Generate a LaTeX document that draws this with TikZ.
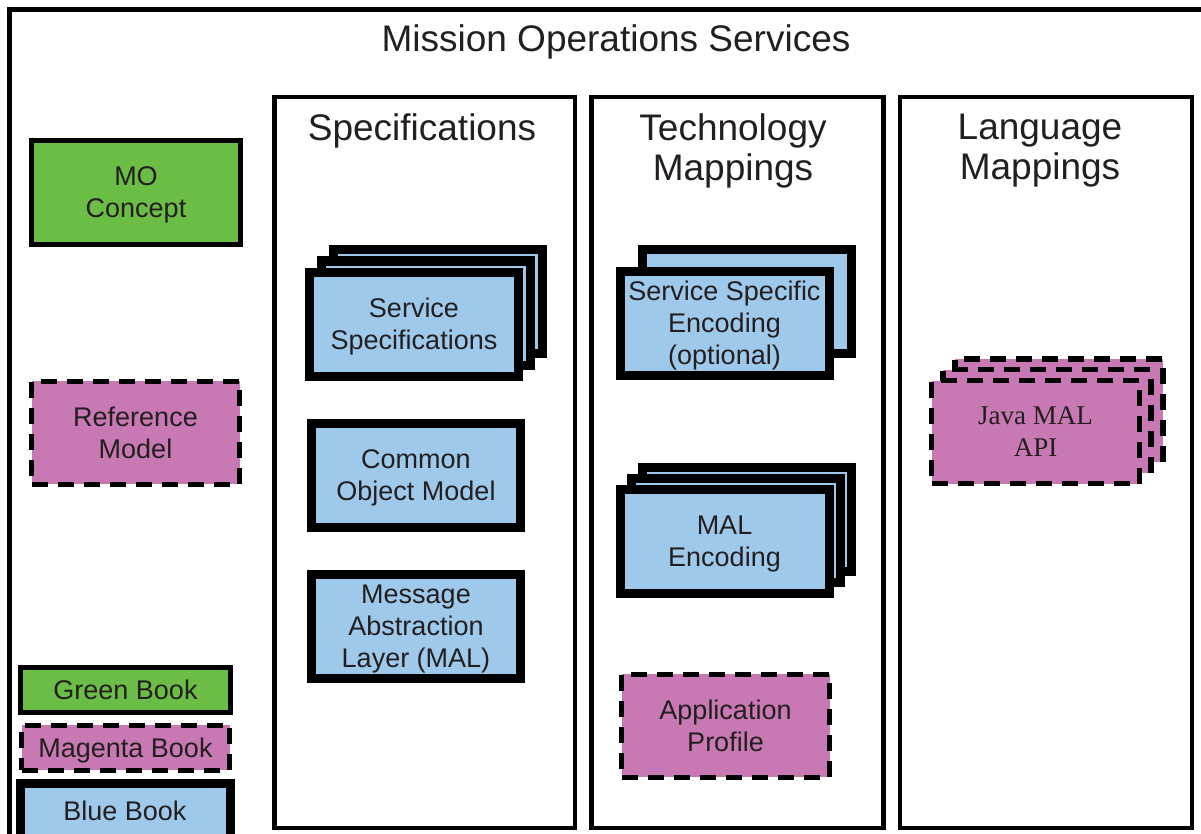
\documentclass[tikz,border=0pt]{standalone}
\usepackage{fontspec}
\setmainfont{Liberation Sans}
\newfontfamily\javafont{Liberation Serif}
\usepackage{tikz}

\definecolor{greenbk}{HTML}{6BBD45}
\definecolor{magentabk}{HTML}{C878B2}
\definecolor{bluebk}{HTML}{9EC9EB}
\definecolor{inktext}{HTML}{231F20}

\begin{document}
\begin{tikzpicture}[x=1pt,y=-1pt,
    book/.style={rectangle,inner sep=0pt,align=center,text=inktext,
        text depth=0pt,font=\fontsize{27}{32}\selectfont},
    greenbook/.style={book,draw,fill=greenbk,line width=5pt},
    magentabook/.style={book,draw,fill=magentabk,line width=5pt,
        dash pattern=on 16pt off 10pt},
    bluebook/.style={book,draw,fill=bluebk,line width=9pt},
    bluebox/.style={bluebook,minimum width=209pt,minimum height=104pt},
    magentabox/.style={magentabook,minimum width=208pt,minimum height=103pt},
    heading/.style={align=center,text=inktext,text depth=0pt,
        font=\fontsize{37}{40}\selectfont}]
    \useasboundingbox (0,0) rectangle (1201,834);
    \clip (0,0) rectangle (1201,834);

    % Frame
    \draw[line width=5pt] (9.5,9.5) rectangle (1230,860);
    \node[heading] (title) at (616,38) {Mission Operations Services};

    % Columns
    \draw[line width=4.5pt] (274.5,97) rectangle (575,828);
    \draw[line width=4.5pt] (591.5,97) rectangle (883.5,828);
    \draw[line width=4.5pt] (900,97) rectangle (1192,828);
    \node[heading] (spechead) at (422,127) {Specifications};
    \node[heading] (techhead) at (733,147) {Technology\\Mappings};
    \node[heading] (langhead) at (1040,147) {Language\\Mappings};

    % Left side
    \node[greenbook,minimum width=209pt,minimum height=104pt] (moconcept) at (136,192.5) {MO\\Concept};
    \node[magentabox] (refmodel) at (135.5,432.5) {Reference\\Model};

    % Legend
    \node[greenbook,minimum width=210pt,minimum height=45pt] (greenkey) at (125.5,690) {Green Book};
    \node[magentabook,minimum width=208pt,minimum height=45pt] (magentakey) at (125.5,747.5) {Magenta Book};
    \node[bluebook,minimum width=210pt,minimum height=55pt] (bluekey) at (125,810.5) {Blue Book};

    % Specifications
    \node[bluebox] (servspec3) at (437.5,301.5) {};
    \node[bluebox] (servspec2) at (426,313) {};
    \node[bluebox] (servspec) at (414,324) {Service\\Specifications};
    \node[bluebox] (com) at (416,475.5) {Common\\Object Model};
    \node[bluebox] (mal) at (416,626) {Message\\Abstraction\\Layer (MAL)};

    % Technology Mappings
    \node[bluebox] (ssenc2) at (746.5,301.5) {};
    \node[bluebox] (ssenc) at (724.5,323) {Service Specific\\Encoding\\(optional)};
    \node[bluebox] (malenc3) at (746.5,519.5) {};
    \node[bluebox] (malenc2) at (735.5,530.5) {};
    \node[bluebox] (malenc) at (724.5,541.5) {MAL\\Encoding};
    \node[magentabox] (appprofile) at (725.5,725.5) {Application\\Profile};

    % Language Mappings
    \node[magentabox,line width=5.5pt] (javaapi3) at (1059,410.5) {};
    \node[magentabox,line width=5.5pt] (javaapi2) at (1047,421) {};
    \node[magentabox,line width=5.5pt,font=\javafont\fontsize{27}{32}\selectfont] (javaapi) at (1035.5,432) {Java MAL\\API};
\end{tikzpicture}
\end{document}
